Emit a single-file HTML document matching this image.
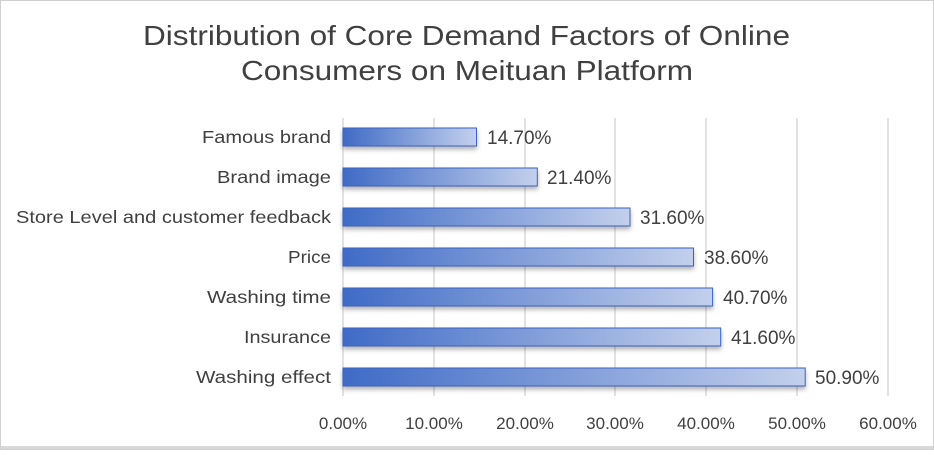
<!DOCTYPE html>
<html><head><style>
body{margin:0;background:#fff;}
svg text{font-family:"Liberation Sans",sans-serif;fill:#404040;}
</style></head><body>
<svg width="934" height="450" xmlns="http://www.w3.org/2000/svg">
<defs>
<linearGradient id="g" x1="0" x2="1" y1="0" y2="0">
<stop offset="0" stop-color="#3f6bc6"/><stop offset="1" stop-color="#c3d0ec"/>
</linearGradient>
<filter id="s" x="-5%" y="-50%" width="110%" height="200%"><feDropShadow dx="0" dy="3" stdDeviation="2.5" flood-color="#000" flood-opacity="0.3"/></filter>
</defs>
<rect x="0.5" y="0.5" width="933" height="449" fill="#fff" stroke="#d0d0d0"/>
<rect x="1" y="446" width="932" height="3" fill="#d9d9d9"/>
<text x="143" y="45" font-size="28" textLength="647" lengthAdjust="spacingAndGlyphs">Distribution of Core Demand Factors of Online</text>
<text x="241" y="80" font-size="28" textLength="452" lengthAdjust="spacingAndGlyphs">Consumers on Meituan Platform</text>
<g stroke="#d9d9d9" stroke-width="1.5">
<line x1="343" y1="118" x2="343" y2="396"/><line x1="434" y1="118" x2="434" y2="396"/><line x1="525" y1="118" x2="525" y2="396"/><line x1="615" y1="118" x2="615" y2="396"/><line x1="706" y1="118" x2="706" y2="396"/><line x1="797" y1="118" x2="797" y2="396"/><line x1="888" y1="118" x2="888" y2="396"/>
</g>
<g font-size="17" text-anchor="middle">
<text x="343" y="429">0.00%</text><text x="434" y="429">10.00%</text><text x="525" y="429">20.00%</text><text x="615" y="429">30.00%</text><text x="706" y="429">40.00%</text><text x="797" y="429">50.00%</text><text x="888" y="429">60.00%</text>
</g>
<g fill="url(#g)" stroke="#3a62c0" stroke-width="1" filter="url(#s)">
<rect x="343" y="128" width="133.5" height="18"/>
<rect x="343" y="168" width="194.3" height="18"/>
<rect x="343" y="208" width="287" height="18"/>
<rect x="343" y="248" width="350.5" height="18"/>
<rect x="343" y="288" width="369.6" height="18"/>
<rect x="343" y="328" width="377.7" height="18"/>
<rect x="343" y="368" width="462.2" height="18"/>
</g>
<g font-size="17.5">
<text x="202" y="143" textLength="129" lengthAdjust="spacingAndGlyphs">Famous brand</text>
<text x="217" y="183" textLength="114" lengthAdjust="spacingAndGlyphs">Brand image</text>
<text x="16" y="223" textLength="315" lengthAdjust="spacingAndGlyphs">Store Level and customer feedback</text>
<text x="288" y="263" textLength="43" lengthAdjust="spacingAndGlyphs">Price</text>
<text x="207" y="303" textLength="124" lengthAdjust="spacingAndGlyphs">Washing time</text>
<text x="244" y="343" textLength="87" lengthAdjust="spacingAndGlyphs">Insurance</text>
<text x="196" y="383" textLength="135" lengthAdjust="spacingAndGlyphs">Washing effect</text>
</g>
<g font-size="19">
<text x="487" y="144">14.70%</text>
<text x="547" y="184">21.40%</text>
<text x="640" y="224">31.60%</text>
<text x="704" y="264">38.60%</text>
<text x="723" y="304">40.70%</text>
<text x="731" y="344">41.60%</text>
<text x="815" y="384">50.90%</text>
</g>
</svg>
</body></html>
